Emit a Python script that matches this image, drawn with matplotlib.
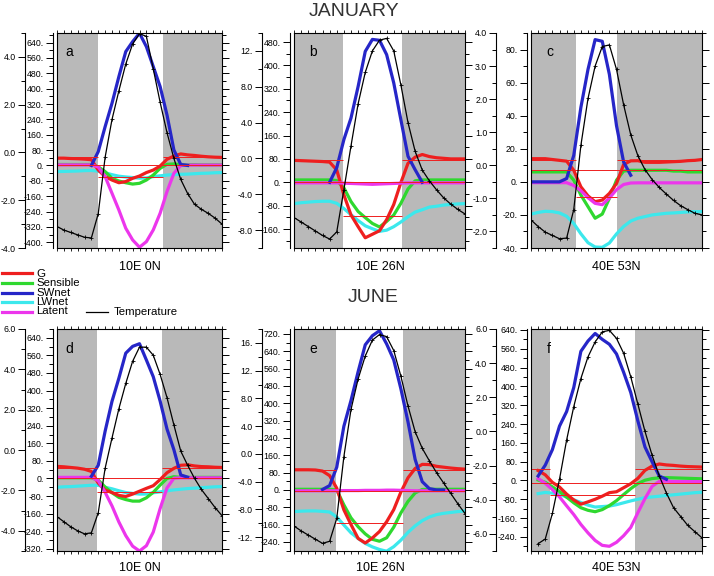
import numpy as np
import matplotlib.pyplot as plt
from matplotlib.ticker import MultipleLocator, FuncFormatter
from matplotlib.lines import Line2D

plt.rcParams['font.family'] = ['Liberation Sans', 'DejaVu Sans']

nan = np.nan

# hour of the day, one value per hour
hours = list(range(25))

# ---- JANUARY 10E 0N (a)
g_a = [38, 38, 36, 35, 33, 30, -24, -58, -76, -90, -84, -67, -55, -37, -24, -3, 32, 49, 60, 55, 52, 48, 45, 43, 42]
sens_a = [5, 5, 5, 5, 5, 5, -7, -32, -67, -81, -90, -97, -93, -76, -50, -15, 6, 8, 5, 4, 4, 3, 3, 3, 3]
sw_a = [nan, nan, nan, nan, nan, 0, 72, 202, 324, 463, 593, 645, 689, 619, 515, 411, 263, 81, 5, 0, nan, nan, nan, nan, nan]
lw_a = [-32, -31, -30, -29, -27, -26, -30, -38, -48, -56, -60, -63, -66, -65, -58, -54, -50, -48, -46, -45, -43, -41, -40, -38, -37]
lat_a = [3, 3, 3, 3, 3, 3, -8, -58, -145, -232, -327, -388, -426, -397, -336, -249, -136, -41, 0, 2, 2, 2, 2, 2, 2]
temp_a = [-3.1, -3.25, -3.35, -3.45, -3.55, -3.58, -2.56, -0.2, 1.38, 2.58, 3.7, 4.54, 4.97, 4.86, 3.5, 2.1, 0.83, -0.25, -1.13, -1.72, -2.17, -2.38, -2.55, -2.75, -3.0]

# ---- JANUARY 10E 26N (b)
g_b = [75, 74, 73, 72, 71, 69, 42, -43, -112, -152, -190, -178, -166, -128, -76, -1, 65, 86, 95, 88, 84, 82, 80, 80, 80]
sens_b = [8, 8, 8, 8, 8, 8, 6, -19, -66, -100, -121, -141, -153, -134, -112, -72, -23, 5, 8, 8, 8, 8, 8, 8, 8]
sw_b = [nan, nan, nan, nan, nan, 0, 50, 146, 220, 328, 448, 489, 486, 437, 340, 214, 89, 43, 0, nan, nan, nan, nan, nan, nan]
lw_b = [-73, -70, -68, -66, -65, -65, -72, -90, -111, -131, -149, -159, -168, -164, -152, -136, -118, -102, -94, -85, -82, -78, -76, -74, -73]
lat_b = [-2, -2, -2, -2, -2, -2, -2, -3, -4, -5, -6, -7, -6, -5, -4, -3, -2, -2, -2, -2, -2, -2, -2, -2, -2]
temp_b = [-6.6, -7.1, -7.6, -8.1, -8.6, -9.0, -8.2, -3.5, 1.4, 6.1, 9.6, 12.0, 13.2, 13.4, 12.0, 8.2, 4.0, 0.8, -1.3, -2.5, -3.5, -4.4, -5.1, -5.7, -6.2]

# ---- JANUARY 40E 53N (c)
g_c = [14, 14, 14, 13.5, 13, 12.5, 7, -3, -8.5, -12, -11, -7, -1, 10.5, 12.7, 12.8, 11.8, 11.8, 11.8, 12, 12.2, 12.4, 12.8, 13, 13.5]
sens_c = [6, 6, 6, 6, 6, 6, 1, -8, -15, -22, -19.5, -10, 1, 6.5, 7, 7, 7, 7, 7, 7, 6.5, 6.5, 6, 6, 6]
sw_c = [0, 0, 0, 0, 0, 2, 16, 45, 68, 86, 85, 65, 34, 12, 4, nan, nan, nan, nan, nan, nan, nan, nan, nan, nan]
lw_c = [-19.5, -18.5, -17.8, -18, -18.8, -20.8, -25.2, -31.4, -36.8, -39.4, -39.6, -37, -31.5, -27, -23.7, -22, -21, -20, -19.5, -19, -18.8, -18.5, -18.2, -18, -18]
lat_c = [-0.5, -0.5, -0.5, -0.5, -0.5, -0.5, -2.2, -5.4, -9.6, -13, -13.8, -9.8, -4.7, -1.6, -0.7, -0.6, -0.6, -0.6, -0.6, -0.6, -0.6, -0.6, -0.6, -0.6, -0.6]
temp_c = [-1.65, -1.85, -2.02, -2.12, -2.22, -2.2, -1.34, 0.6, 2.02, 3.0, 3.59, 3.64, 2.9, 1.83, 0.92, 0.29, -0.13, -0.43, -0.67, -0.87, -1.06, -1.22, -1.34, -1.45, -1.5]

# ---- JUNE 10E 0N (d)
g_d = [55, 53, 50, 47, 42, 32, -21, -53, -64, -77, -82, -71, -58, -45, -33, -5, 26, 46, 60, 62, 57, 54, 53, 51, 50]
sens_d = [3, 3, 3, 3, 3, 3, -7, -39, -65, -86, -96, -103, -103, -88, -63, -30, 0, 8, 5, 5, 5, 5, 5, 5, 5]
sw_d = [nan, nan, nan, nan, nan, 10, 60, 215, 351, 456, 570, 601, 613, 539, 463, 352, 225, 131, 16, 6, nan, nan, nan, nan, nan]
lw_d = [-40, -38, -37, -35, -33, -31, -31, -40, -47, -56, -64, -68, -71, -71, -65, -61, -56, -52, -49, -46, -44, -42, -40, -38, -37]
lat_d = [5, 5, 5, 5, 5, 5, -10, -63, -125, -198, -260, -308, -330, -306, -244, -137, -43, 1, 3, 3, 3, 3, 3, 3, 3]
temp_d = [-3.3, -3.55, -3.8, -4.0, -4.15, -4.1, -3.1, -0.9, 0.6, 2.05, 3.3, 4.4, 5.1, 5.1, 4.7, 3.75, 2.6, 1.25, -0.05, -0.75, -1.4, -1.95, -2.4, -2.85, -3.25]

# ---- JUNE 10E 26N (e)
g_e = [93, 93, 93, 92, 87, 66, 8, -92, -160, -224, -245, -222, -192, -147, -91, -10, 56, 99, 118, 117, 109, 105, 101, 98, 96]
sens_e = [3, 3, 3, 3, 3, 3, 0, -69, -129, -170, -203, -228, -237, -221, -172, -106, -53, -14, 2, 3, 3, 3, 3, 3, 3]
sw_e = [nan, nan, nan, nan, 2, 20, 105, 294, 413, 546, 670, 712, 735, 674, 600, 467, 314, 141, 38, 6, 0, 0, nan, nan, nan]
lw_e = [-100, -98, -97, -97, -99, -102, -125, -162, -198, -224, -247, -263, -275, -283, -262, -232, -196, -166, -142, -125, -114, -108, -104, -100, -97]
lat_e = [-4, -4, -4, -4, -4, -4, -4, -3, -3, -3, -2, -2, -2, -1, -1, -2, -3, -4, -4, -4, -4, -4, -4, -4, -4]
temp_e = [-10.4, -11.1, -11.7, -12.3, -12.9, -12.6, -9.3, -0.4, 6.4, 10.8, 14.1, 16.4, 17.2, 16.9, 14.9, 11.2, 6.9, 3.2, 0.8, -1.0, -2.7, -4.2, -5.7, -7.2, -8.6]

# ---- JUNE 40E 53N (f)
g_f = [nan, 42, 24, -8, -28, -58, -83, -101, -91, -80, -67, -52, -48, -31, -14, 9, 43, 61, 70, 66, 64, 61, 59, 58, 57]
sens_f = [nan, 2, -8, -27, -47, -71, -95, -116, -127, -133, -124, -107, -86, -60, -35, -13, 1, 8, 11, 12, 11, 10, 9, 8, 7]
sw_f = [nan, 19, 65, 131, 231, 293, 395, 549, 593, 625, 600, 579, 538, 460, 374, 253, 142, 79, 19, 5, nan, nan, nan, nan, nan]
lw_f = [nan, -56, -51, -54, -59, -71, -82, -94, -105, -113, -111, -109, -103, -95, -87, -80, -73, -70, -67, -64, -61, -58, -55, -52, -50]
lat_f = [nan, 8, -12, -39, -70, -108, -145, -187, -223, -255, -276, -280, -263, -235, -200, -137, -77, -25, -4, -3, -5, -5, -5, -5, -5]
temp_f = [nan, -6.57, -6.3, -4.8, -2.8, -0.5, 1.45, 3.1, 4.37, 5.24, 5.83, 5.92, 5.45, 4.58, 3.2, 1.6, 0.0, -1.4, -2.6, -3.6, -4.46, -4.98, -5.5, -5.87, -6.23]

# sunrise / sunset hour of each panel (white = day)
daylight = {'a': (6.0, 15.4), 'b': (6.9, 15.2), 'c': (6.3, 12.1),
            'd': (5.8, 15.3), 'e': (5.9, 15.3), 'f': (2.7, 14.6)}
# mean G over the whole day, the daytime and the night
g_mean_all = {'a': 0, 'b': 0, 'c': 7, 'd': 0, 'e': -3, 'f': -10}
g_mean_day = {'a': -58, 'b': -117, 'c': -9, 'd': -62, 'e': -155, 'f': -61}
g_mean_night = {'a': 42, 'b': 75, 'c': 13, 'd': 47, 'e': 93, 'f': 50}

site_labels = ['10E 0N', '10E 26N', '40E 53N']

W, H = 714, 576
fig = plt.figure(figsize=(W / 100, H / 100), dpi=100)

col_g = '#ee1f1f'
col_sens = '#2fd82f'
col_sw = '#2626c8'
col_lw = '#3ce8ec'
col_lat = '#ec36ec'
night_col = '#b9b9b9'


def px_box(left, top, width, height):
    return [left / W, 1 - (top + height) / H, width / W, height / H]


def flux_label(v, pos):
    return '%d.' % int(round(v))


def temp_label(v, pos):
    v = round(v, 3) + 0.0
    if abs(v) >= 10:
        return '%d.' % int(round(v))
    return '%.1f' % v


def panel(key, box, g, sens, sw, lwnet, lat, temp, flux_lim, flux_step,
          temp_lim, temp_step, letter_x, temp_off):
    ax = fig.add_axes(px_box(*box))
    ax.set_xlim(0, 24)
    ax.set_ylim(*flux_lim)
    sunrise, sunset = daylight[key]
    ax.axvspan(0, sunrise, color=night_col, lw=0)
    ax.axvspan(sunset, 24, color=night_col, lw=0)

    ax.plot(hours, lwnet, color=col_lw, lw=2.3)
    ax.plot(hours, sens, color=col_sens, lw=2.3)
    ax.plot(hours, g, color=col_g, lw=2.3)
    ax.plot(hours, lat, color=col_lat, lw=2.3)
    ax.plot(hours, sw, color=col_sw, lw=2.3)

    # thin lines: mean G (whole day, daytime, night)
    night_g = g_mean_night[key]
    ax.hlines(g_mean_all[key], 0, 24, color=col_g, lw=0.7)
    ax.hlines(g_mean_day[key], sunrise, sunset, color=col_g, lw=0.7)
    ax.hlines([night_g, night_g], [0, sunset], [sunrise, 24], color=col_g, lw=0.7)

    ax.axvline(0, color='k', lw=0.8, clip_on=False)
    ax.text(letter_x, 0.91, key, transform=ax.transAxes, fontsize=10,
            ha='left', va='center')

    ax.xaxis.set_major_locator(MultipleLocator(1))
    ax.tick_params(axis='x', which='both', top=True, bottom=True,
                   direction='out', length=2.2, width=0.6, labelbottom=False)
    ax.yaxis.set_major_locator(MultipleLocator(flux_step))
    ax.yaxis.set_minor_locator(MultipleLocator(flux_step / 2))
    ax.yaxis.set_major_formatter(FuncFormatter(flux_label))
    ax.spines['left'].set_position(('outward', 3))
    for s in ax.spines.values():
        s.set_linewidth(0.8)

    # temperature axis, offset to the left
    tw = ax.twinx()
    tw.set_ylim(*temp_lim)
    tw.yaxis.tick_left()
    tw.yaxis.set_major_locator(MultipleLocator(temp_step))
    tw.yaxis.set_minor_locator(MultipleLocator(temp_step / 2))
    tw.yaxis.set_major_formatter(FuncFormatter(temp_label))
    tw.spines['left'].set_visible(True)
    tw.spines['left'].set_position(('outward', temp_off))
    tw.spines['left'].set_linewidth(0.8)
    for s in ['right', 'top', 'bottom']:
        tw.spines[s].set_visible(False)
    tw.tick_params(axis='y', which='major', length=5, width=0.7, labelsize=6.3, pad=1.5)
    tw.tick_params(axis='y', which='minor', length=3, width=0.7)
    tw.plot(hours, temp, color='k', lw=0.9, marker='+', ms=2.2, mew=0.6)

    ax.tick_params(axis='y', which='both', left=True, right=True,
                   labelleft=True, labelright=False, direction='out', width=0.7)
    ax.tick_params(axis='y', which='major', length=5, labelsize=6.3, pad=1.5)
    ax.tick_params(axis='y', which='minor', length=3)
    return ax


panel('a', (57, 33, 165, 215), g_a, sens_a, sw_a, lw_a, lat_a, temp_a,
      (-430, 690), 80, (-4, 5), 2, 0.05, 23)
panel('b', (294, 33, 171, 215), g_b, sens_b, sw_b, lw_b, lat_b, temp_b,
      (-225, 511), 80, (-10, 14), 4, 0.09, 23)
panel('c', (531, 33, 171, 215), g_c, sens_c, sw_c, lw_c, lat_c, temp_c,
      (-40, 90), 20, (-2.5, 4), 1, 0.09, 25)
panel('d', (57, 329, 165, 222), g_d, sens_d, sw_d, lw_d, lat_d, temp_d,
      (-330, 680), 80, (-5, 6), 2, 0.05, 23)
panel('e', (294, 329, 171, 222), g_e, sens_e, sw_e, lw_e, lat_e, temp_e,
      (-282, 743), 80, (-14, 18), 4, 0.09, 23)
panel('f', (531, 329, 171, 222), g_f, sens_f, sw_f, lw_f, lat_f, temp_f,
      (-300, 644), 80, (-7, 6), 2, 0.09, 25)

# titles and site names
fig.text(354 / W, 1 - 12 / H, 'JANUARY', ha='center', va='center', fontsize=14, color='#333333')
fig.text(373 / W, 1 - 298 / H, 'JUNE', ha='center', va='center', fontsize=14, color='#333333')
for cx, name in zip([140, 380, 616], site_labels):
    fig.text(cx / W, 1 - 267 / H, name, ha='center', va='center', fontsize=9)
    fig.text(cx / W, 1 - 568 / H, name, ha='center', va='center', fontsize=9)

# legend: tight stack of names in one text block
legend_items = [('G', col_g), ('Sensible', col_sens), ('SWnet', col_sw),
                ('LWnet', col_lw), ('Latent', col_lat)]
row = 9.8
for i, (name, c) in enumerate(legend_items):
    y = 1 - (273 + row * i) / H
    fig.add_artist(Line2D([2 / W, 32 / W], [y, y], color=c, lw=2.3))
fig.text(36 / W, 1 - (273 + row * 2) / H, '\n'.join(n for n, c in legend_items),
         ha='left', va='center', fontsize=8.2, linespacing=0.92)
y = 1 - 312 / H
fig.add_artist(Line2D([86 / W, 108 / W], [y, y], color='k', lw=0.9))
fig.text(114 / W, y, 'Temperature', ha='left', va='center', fontsize=8.2)

fig.savefig('out.png', dpi=100)
